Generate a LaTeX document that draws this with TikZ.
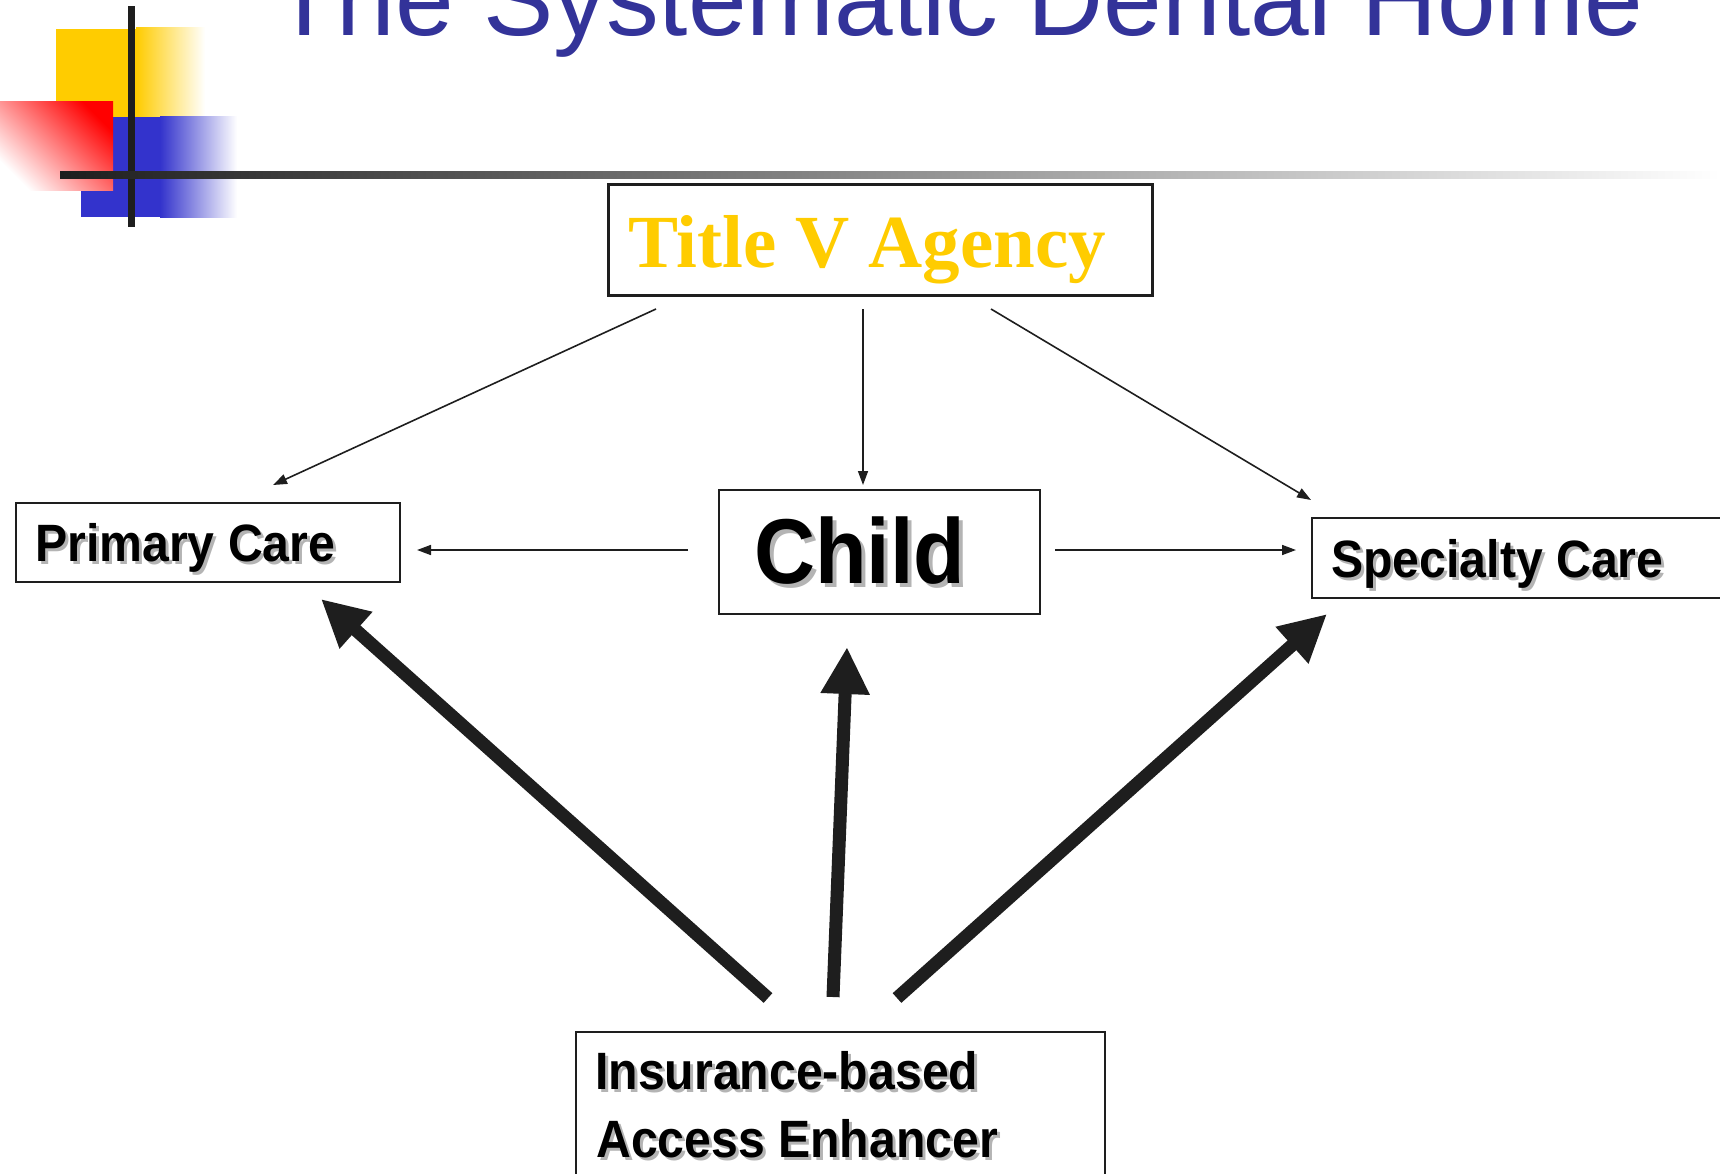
\documentclass[tikz,border=0pt]{standalone}
\usepackage{fontspec}
\setmainfont{Liberation Sans}
\newfontfamily\serifb{Liberation Serif}
\usetikzlibrary{arrows.meta,calc}
\definecolor{titleblue}{HTML}{333399}
\definecolor{gold}{HTML}{FFCC00}
\definecolor{logoyellow}{HTML}{FFCC00}
\definecolor{logoblue}{HTML}{3333CC}
\definecolor{logored}{HTML}{FF0000}
\definecolor{bar}{HTML}{1E1E1E}
\definecolor{shadowgray}{HTML}{B4B4B4}
\newcommand\shtxt[2]{\leavevmode\rlap{\hspace{#1}\raisebox{-#1}{\textcolor{shadowgray}{#2}}}#2}
\newcommand\tallsh[2]{\scalebox{1}[1.09]{\shtxt{#1}{#2}}}
\begin{document}
\begin{tikzpicture}[x=1pt,y=-1pt,
  boxnode/.style={draw=bar, line width=2.5pt, rectangle, inner sep=0pt, outer sep=0pt, anchor=north west},
  lbl/.style={anchor=base west, inner sep=0pt, font=\fontsize{48.2}{57}\selectfont\bfseries},
  thinarrow/.style={draw=bar, line width=1.6pt, -{Triangle[length=14pt,width=10pt]}},
  thickarrow/.style={draw=bar, line width=13pt, -{Triangle[length=47pt,width=46pt]}}]
\useasboundingbox (0,0) rectangle (1720,1174);
\clip (0,0) rectangle (1720,1174);
% logo
\fill[logoyellow] (56,29) rectangle (137,117);
\shade[left color=logoyellow, right color=white] (136,28) rectangle (205,117);
\fill[logoblue] (81,117) rectangle (161,217);
\shade[left color=logoblue, right color=white] (160,117) rectangle (237,218);
\shade[top color=logored, bottom color=white, shading angle=-45] (0,102) rectangle (113,191);
\fill[bar] (128,6) rectangle (135,227);
\shade[left color=bar, right color=white] (60,172) rectangle (1720,179);
% title
\node[anchor=base west, inner sep=0pt, text=titleblue, font=\fontsize{105.4}{110}\selectfont] (title) at (272,36) {The Systematic Dental Home};
% boxes
\node[boxnode, line width=3pt, minimum width=544pt, minimum height=110pt] (tv) at (608,185) {};
\node[boxnode, minimum width=384pt, minimum height=79pt] (pc) at (16,503) {};
\node[boxnode, minimum width=321pt, minimum height=124pt] (ch) at (719,490) {};
\node[boxnode, minimum width=460pt, minimum height=80pt] (sc) at (1312,518) {};
\node[boxnode, minimum width=529pt, minimum height=180pt] (ins) at (576,1032) {};
% labels
\node[anchor=base west, inner sep=0pt, text=gold, font=\serifb\fontsize{75}{80}\selectfont\bfseries] (tvt) at (628,268) {Title V Agency};
\node[lbl] (pct) at (35,561) {\tallsh{3pt}{Primary Care}};
\node[lbl, font=\fontsize{84.5}{90}\selectfont\bfseries] (cht) at (754,583) {\tallsh{4pt}{Child}};
\node[lbl] (sct) at (1331,577) {\tallsh{3pt}{Specialty Care}};
\node[lbl] (ins1) at (595,1089) {\tallsh{3pt}{Insurance-based}};
\node[lbl] (ins2) at (596,1157) {\tallsh{3pt}{Access Enhancer}};
% thin arrows
\draw[thinarrow] ($(tv.south west)+(48,14)$) -- ($(pc.north west)+(257,-18)$);
\draw[thinarrow] ($(tv.south west)+(255,14)$) -- ($(ch.north west)+(144,-5)$);
\draw[thinarrow] ($(tv.south west)+(383,14)$) -- ($(sc.north west)+(-1,-18)$);
\draw[thinarrow] ($(ch.north west)+(-31,60)$) -- ($(pc.north east)+(17,47)$);
\draw[thinarrow] ($(ch.north east)+(15,60)$) -- ($(sc.north west)+(-16,32)$);
% thick arrows
\draw[thickarrow] ($(ins.north west)+(192,-34)$) -- ($(pc.south west)+(305,17)$);
\draw[thickarrow] ($(ins.north west)+(257,-35)$) -- ($(ch.south west)+(128,33)$);
\draw[thickarrow] ($(ins.north west)+(321,-34)$) -- ($(sc.south west)+(15,16)$);
\end{tikzpicture}
\end{document}
